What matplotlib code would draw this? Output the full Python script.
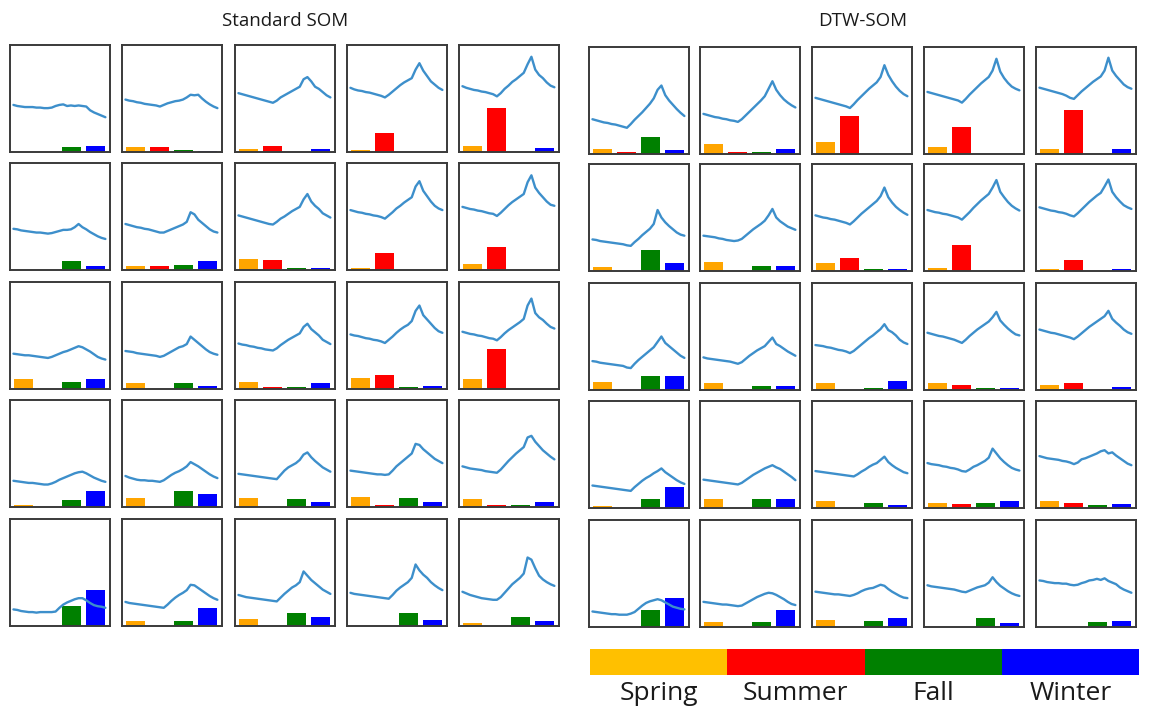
import matplotlib
matplotlib.use('Agg')
import matplotlib.pyplot as plt

plt.rcParams['font.family'] = ['Open Sans', 'DejaVu Sans']

# ---------------- data (values as fraction of panel height) ----------------
seasons = ['Spring', 'Summer', 'Fall', 'Winter']
bar_colors = ['#FFA500', '#FF0000', '#008000', '#0000FF']
legend_colors = ['#FFC000', '#FF0000', '#008000', '#0000FF']

# Standard SOM, 5x5 prototypes, row-major, 25 samples each
std_curves = [
    [0.44,0.43,0.425,0.42,0.42,0.42,0.415,0.415,0.41,0.41,0.415,0.43,0.44,0.445,0.43,0.435,0.43,0.435,0.43,0.425,0.39,0.37,0.355,0.34,0.325],
    [0.49,0.48,0.475,0.465,0.46,0.45,0.445,0.44,0.435,0.425,0.44,0.455,0.465,0.475,0.48,0.49,0.51,0.535,0.53,0.535,0.50,0.47,0.445,0.425,0.41],
    [0.55,0.54,0.53,0.52,0.51,0.50,0.49,0.48,0.47,0.46,0.48,0.51,0.53,0.55,0.57,0.59,0.61,0.68,0.70,0.66,0.61,0.59,0.56,0.53,0.51],
    [0.60,0.585,0.575,0.57,0.56,0.555,0.545,0.535,0.525,0.51,0.535,0.565,0.595,0.625,0.65,0.67,0.69,0.77,0.83,0.76,0.71,0.66,0.63,0.60,0.58],
    [0.615,0.60,0.59,0.58,0.575,0.565,0.56,0.55,0.54,0.52,0.55,0.59,0.62,0.655,0.68,0.71,0.74,0.82,0.89,0.77,0.72,0.69,0.65,0.62,0.605],

    [0.385,0.38,0.37,0.365,0.36,0.355,0.35,0.35,0.345,0.34,0.345,0.355,0.365,0.375,0.375,0.38,0.40,0.43,0.40,0.38,0.355,0.335,0.315,0.30,0.29],
    [0.43,0.42,0.41,0.40,0.395,0.385,0.38,0.37,0.36,0.35,0.35,0.365,0.38,0.395,0.41,0.425,0.45,0.54,0.52,0.47,0.44,0.41,0.38,0.36,0.35],
    [0.51,0.50,0.49,0.48,0.47,0.46,0.45,0.44,0.43,0.425,0.45,0.48,0.50,0.525,0.55,0.57,0.59,0.66,0.71,0.64,0.60,0.57,0.53,0.51,0.49],
    [0.56,0.55,0.54,0.535,0.525,0.52,0.51,0.505,0.495,0.48,0.51,0.54,0.575,0.60,0.63,0.655,0.68,0.78,0.83,0.74,0.69,0.64,0.60,0.575,0.56],
    [0.59,0.58,0.57,0.565,0.555,0.55,0.54,0.53,0.525,0.505,0.535,0.57,0.605,0.635,0.66,0.685,0.71,0.82,0.885,0.77,0.72,0.68,0.64,0.61,0.60],

    [0.33,0.325,0.32,0.315,0.315,0.31,0.305,0.30,0.295,0.29,0.30,0.315,0.33,0.345,0.355,0.37,0.385,0.40,0.39,0.37,0.35,0.325,0.30,0.285,0.275],
    [0.355,0.35,0.345,0.335,0.33,0.325,0.32,0.315,0.31,0.30,0.31,0.33,0.35,0.37,0.39,0.40,0.42,0.49,0.46,0.43,0.40,0.37,0.345,0.33,0.32],
    [0.425,0.415,0.41,0.40,0.395,0.385,0.38,0.37,0.365,0.36,0.38,0.41,0.435,0.46,0.48,0.50,0.52,0.58,0.61,0.56,0.53,0.50,0.46,0.44,0.42],
    [0.51,0.50,0.495,0.485,0.475,0.47,0.46,0.455,0.445,0.43,0.46,0.49,0.525,0.555,0.58,0.60,0.635,0.73,0.78,0.69,0.65,0.61,0.57,0.54,0.525],
    [0.535,0.525,0.515,0.51,0.50,0.495,0.485,0.475,0.47,0.455,0.485,0.52,0.55,0.575,0.60,0.625,0.655,0.78,0.845,0.71,0.67,0.645,0.61,0.58,0.565],

    [0.245,0.24,0.235,0.23,0.225,0.225,0.22,0.215,0.21,0.21,0.22,0.235,0.255,0.27,0.285,0.30,0.315,0.325,0.33,0.315,0.295,0.275,0.26,0.245,0.235],
    [0.29,0.275,0.265,0.255,0.25,0.25,0.245,0.245,0.24,0.235,0.25,0.275,0.30,0.32,0.335,0.355,0.38,0.42,0.40,0.38,0.355,0.33,0.305,0.285,0.27],
    [0.31,0.305,0.30,0.295,0.29,0.285,0.28,0.275,0.27,0.265,0.26,0.30,0.34,0.37,0.39,0.41,0.44,0.49,0.51,0.465,0.43,0.40,0.37,0.35,0.33],
    [0.34,0.335,0.33,0.325,0.32,0.315,0.31,0.305,0.305,0.30,0.305,0.34,0.38,0.41,0.44,0.47,0.50,0.59,0.58,0.54,0.51,0.48,0.45,0.43,0.41],
    [0.38,0.37,0.36,0.355,0.35,0.345,0.335,0.33,0.325,0.32,0.35,0.39,0.43,0.465,0.50,0.53,0.56,0.65,0.665,0.61,0.57,0.53,0.50,0.47,0.445],

    [0.155,0.15,0.14,0.135,0.13,0.13,0.125,0.13,0.13,0.13,0.13,0.135,0.17,0.20,0.22,0.235,0.25,0.26,0.26,0.24,0.215,0.195,0.185,0.18,0.17],
    [0.225,0.215,0.21,0.205,0.20,0.195,0.19,0.185,0.18,0.175,0.17,0.20,0.235,0.265,0.29,0.31,0.335,0.385,0.38,0.355,0.33,0.305,0.28,0.26,0.245],
    [0.29,0.28,0.27,0.265,0.26,0.255,0.25,0.245,0.24,0.235,0.23,0.265,0.30,0.33,0.36,0.38,0.41,0.51,0.47,0.43,0.40,0.37,0.34,0.32,0.30],
    [0.31,0.30,0.295,0.29,0.285,0.28,0.275,0.27,0.265,0.26,0.255,0.29,0.33,0.36,0.385,0.41,0.45,0.575,0.52,0.48,0.45,0.41,0.38,0.355,0.335],
    [0.32,0.305,0.29,0.28,0.27,0.26,0.255,0.25,0.245,0.245,0.27,0.31,0.35,0.39,0.42,0.45,0.49,0.64,0.62,0.54,0.47,0.435,0.41,0.39,0.375],
]
std_spring = [0, 0.044, 0.03, 0.022, 0.056,
              0, 0.037, 0.10, 0.018, 0.059,
              0.09, 0.059, 0.068, 0.105, 0.096,
              0.022, 0.08, 0.08, 0.09, 0.071,
              0, 0.044, 0.0625, 0, 0.031]
std_summer = [0, 0.044, 0.056, 0.175, 0.415,
              0, 0.037, 0.09, 0.16, 0.215,
              0, 0, 0.022, 0.127, 0.37,
              0, 0, 0, 0.016, 0.022,
              0, 0, 0, 0, 0]
std_fall = [0.044, 0.016, 0, 0, 0,
            0.08, 0.046, 0.018, 0, 0,
            0.068, 0.059, 0.019, 0.019, 0,
            0.062, 0.152, 0.071, 0.08, 0.022,
            0.185, 0.044, 0.125, 0.125, 0.08]
std_winter = [0.056, 0.012, 0.025, 0, 0.04,
              0.037, 0.08, 0.018, 0, 0,
              0.096, 0.025, 0.059, 0.025, 0,
              0.152, 0.12, 0.043, 0.043, 0.043,
              0.335, 0.17, 0.08, 0.053, 0.047]

# DTW-SOM, 5x5 prototypes, row-major
dtw_curves = [
    [0.325,0.315,0.305,0.295,0.29,0.28,0.275,0.265,0.255,0.245,0.28,0.32,0.355,0.39,0.43,0.47,0.52,0.60,0.64,0.55,0.50,0.46,0.42,0.385,0.355],
    [0.375,0.365,0.355,0.345,0.34,0.33,0.325,0.315,0.31,0.30,0.325,0.36,0.395,0.43,0.465,0.50,0.54,0.61,0.68,0.60,0.55,0.51,0.48,0.455,0.435],
    [0.525,0.515,0.505,0.495,0.485,0.475,0.465,0.455,0.445,0.43,0.465,0.505,0.54,0.575,0.61,0.64,0.67,0.72,0.83,0.74,0.68,0.63,0.59,0.56,0.54],
    [0.58,0.57,0.56,0.55,0.54,0.53,0.52,0.51,0.50,0.48,0.515,0.555,0.59,0.625,0.66,0.69,0.72,0.78,0.89,0.77,0.71,0.665,0.63,0.61,0.595],
    [0.62,0.61,0.60,0.59,0.58,0.57,0.56,0.545,0.525,0.515,0.55,0.585,0.615,0.645,0.675,0.70,0.725,0.78,0.90,0.78,0.73,0.69,0.65,0.625,0.61],

    [0.295,0.29,0.28,0.275,0.27,0.265,0.26,0.255,0.25,0.24,0.235,0.27,0.30,0.335,0.365,0.395,0.44,0.57,0.50,0.455,0.42,0.39,0.36,0.34,0.33],
    [0.33,0.325,0.32,0.315,0.305,0.30,0.29,0.285,0.28,0.285,0.30,0.33,0.36,0.39,0.415,0.44,0.47,0.52,0.58,0.50,0.465,0.44,0.415,0.40,0.385],
    [0.52,0.51,0.50,0.495,0.485,0.48,0.47,0.46,0.45,0.435,0.465,0.50,0.535,0.565,0.595,0.625,0.655,0.70,0.78,0.69,0.64,0.60,0.57,0.545,0.525],
    [0.57,0.56,0.55,0.545,0.535,0.53,0.52,0.51,0.50,0.48,0.515,0.55,0.59,0.625,0.66,0.69,0.72,0.78,0.85,0.74,0.69,0.645,0.61,0.585,0.565],
    [0.595,0.585,0.575,0.565,0.56,0.55,0.545,0.535,0.52,0.51,0.54,0.575,0.61,0.645,0.675,0.705,0.73,0.79,0.855,0.74,0.69,0.65,0.615,0.595,0.58],

    [0.27,0.265,0.255,0.25,0.245,0.24,0.235,0.23,0.225,0.21,0.205,0.245,0.28,0.31,0.34,0.37,0.40,0.45,0.50,0.44,0.41,0.38,0.35,0.32,0.30],
    [0.305,0.295,0.29,0.285,0.28,0.275,0.27,0.265,0.255,0.245,0.26,0.29,0.32,0.345,0.37,0.39,0.41,0.45,0.49,0.43,0.41,0.385,0.36,0.34,0.32],
    [0.42,0.415,0.41,0.40,0.395,0.385,0.375,0.37,0.36,0.345,0.365,0.395,0.425,0.455,0.485,0.51,0.54,0.57,0.615,0.56,0.54,0.51,0.47,0.445,0.43],
    [0.535,0.525,0.515,0.505,0.50,0.49,0.48,0.47,0.455,0.44,0.47,0.505,0.535,0.565,0.59,0.615,0.64,0.68,0.73,0.65,0.61,0.575,0.545,0.52,0.51],
    [0.565,0.555,0.545,0.535,0.53,0.52,0.51,0.50,0.49,0.475,0.50,0.53,0.56,0.59,0.615,0.64,0.665,0.69,0.74,0.665,0.63,0.60,0.565,0.54,0.525],

    [0.21,0.205,0.20,0.195,0.19,0.185,0.18,0.175,0.17,0.165,0.16,0.195,0.225,0.255,0.28,0.30,0.325,0.345,0.37,0.335,0.31,0.285,0.26,0.24,0.225],
    [0.265,0.26,0.255,0.25,0.245,0.24,0.235,0.23,0.225,0.22,0.235,0.26,0.285,0.31,0.33,0.35,0.37,0.385,0.40,0.38,0.365,0.34,0.315,0.29,0.26],
    [0.345,0.34,0.335,0.33,0.325,0.32,0.315,0.31,0.305,0.30,0.295,0.315,0.34,0.36,0.385,0.405,0.42,0.45,0.48,0.43,0.40,0.375,0.355,0.335,0.325],
    [0.42,0.41,0.405,0.40,0.39,0.385,0.375,0.37,0.36,0.345,0.34,0.36,0.385,0.40,0.42,0.44,0.47,0.555,0.51,0.465,0.43,0.40,0.375,0.36,0.35],
    [0.485,0.475,0.465,0.46,0.455,0.45,0.44,0.435,0.425,0.41,0.425,0.455,0.465,0.48,0.495,0.51,0.53,0.54,0.51,0.52,0.49,0.465,0.44,0.415,0.40],

    [0.145,0.14,0.135,0.13,0.125,0.12,0.12,0.115,0.115,0.115,0.125,0.14,0.17,0.20,0.225,0.24,0.25,0.26,0.25,0.23,0.21,0.19,0.18,0.17,0.165],
    [0.235,0.23,0.225,0.22,0.215,0.21,0.21,0.205,0.20,0.195,0.20,0.22,0.24,0.26,0.28,0.295,0.31,0.32,0.315,0.30,0.28,0.26,0.235,0.215,0.205],
    [0.33,0.325,0.32,0.315,0.31,0.305,0.305,0.30,0.295,0.29,0.30,0.315,0.335,0.35,0.36,0.365,0.38,0.395,0.385,0.355,0.33,0.31,0.29,0.275,0.27],
    [0.39,0.38,0.375,0.37,0.365,0.36,0.355,0.35,0.34,0.33,0.325,0.34,0.355,0.37,0.38,0.39,0.415,0.465,0.42,0.385,0.36,0.335,0.315,0.30,0.29],
    [0.435,0.43,0.42,0.415,0.41,0.41,0.405,0.405,0.395,0.39,0.395,0.41,0.42,0.435,0.44,0.45,0.44,0.455,0.43,0.415,0.40,0.37,0.35,0.335,0.32],
]
dtw_spring = [0.043, 0.093, 0.115, 0.068, 0.043,
              0.034, 0.084, 0.075, 0.025, 0.016,
              0.077, 0.062, 0.062, 0.062, 0.05,
              0.019, 0.084, 0.065, 0.046, 0.065,
              0, 0.047, 0.065, 0, 0]
dtw_summer = [0.016, 0.022, 0.354, 0.255, 0.41,
              0, 0, 0.124, 0.245, 0.105,
              0, 0, 0, 0.05, 0.062,
              0, 0, 0, 0.034, 0.046,
              0, 0, 0, 0, 0]
dtw_fall = [0.155, 0.022, 0, 0, 0,
            0.20, 0.043, 0.016, 0, 0,
            0.127, 0.04, 0.019, 0.019, 0,
            0.08, 0.084, 0.046, 0.046, 0.025,
            0.156, 0.047, 0.056, 0.084, 0.047]
dtw_winter = [0.04, 0.043, 0, 0, 0.043,
              0.075, 0.043, 0.016, 0, 0.016,
              0.127, 0.037, 0.08, 0.019, 0.025,
              0.20, 0.084, 0.025, 0.068, 0.034,
              0.274, 0.156, 0.084, 0.037, 0.059]

titles = ['Standard SOM', 'DTW-SOM']

# ---------------- layout (pixels) ----------------
W, H = 1149, 710
PW, PH = 100, 107
LINE_COLOR = '#3d8fcb'
FRAME_COLOR = '#3a3a3a'

fig = plt.figure(figsize=(W / 100, H / 100), dpi=100)


def draw_grid(curves, spring, summer, fall, winter, lefts, tops):
    for i in range(25):
        r, c = divmod(i, 5)
        ax = fig.add_axes([lefts[c] / W, 1 - (tops[r] + PH) / H, PW / W, PH / H])
        vals = [spring[i], summer[i], fall[i], winter[i]]
        ax.bar(range(4), vals, width=0.78, color=bar_colors, zorder=1)
        ax.set_xlim(-0.57, 3.6)
        ax.set_ylim(0, 1)
        ax.set_xticks([])
        ax.set_yticks([])
        for s in ax.spines.values():
            s.set_color(FRAME_COLOR)
            s.set_linewidth(1.4)
        ax2 = ax.twiny()
        ax2.plot(range(len(curves[i])), curves[i], color=LINE_COLOR, lw=1.7,
                 solid_joinstyle='round', solid_capstyle='round')
        ax2.set_xlim(-0.9, 25.2)
        ax2.set_xticks([])
        for s in ax2.spines.values():
            s.set_visible(False)


std_lefts = [10, 122, 235, 347, 459]
std_tops = [45, 163, 282, 400, 519]
dtw_lefts = [589, 700, 812, 924, 1036]
dtw_tops = [47, 164, 283, 401, 520]

draw_grid(std_curves, std_spring, std_summer, std_fall, std_winter, std_lefts, std_tops)
draw_grid(dtw_curves, dtw_spring, dtw_summer, dtw_fall, dtw_winter, dtw_lefts, dtw_tops)

fig.text(285 / W, 1 - 21 / H, titles[0], ha='center', va='center', fontsize=13.5, color='#1a1a1a')
fig.text(863 / W, 1 - 21 / H, titles[1], ha='center', va='center', fontsize=13.5, color='#1a1a1a')

# legend colour bar
lx, ly, lw_, lh = 590, 649, 549, 26
lax = fig.add_axes([lx / W, 1 - (ly + lh) / H, lw_ / W, lh / H])
lax.barh([0] * 4, [1] * 4, left=range(4), height=1, color=legend_colors, align='center')
lax.set_xlim(0, 4)
lax.set_ylim(-0.5, 0.5)
lax.axis('off')
for k, name in enumerate(seasons):
    fig.text((lx + lw_ * (k + 0.5) / 4) / W, 1 - 693 / H, name, ha='center', va='center',
             fontsize=19, color='#1a1a1a')

fig.savefig('out.png', dpi=100)
